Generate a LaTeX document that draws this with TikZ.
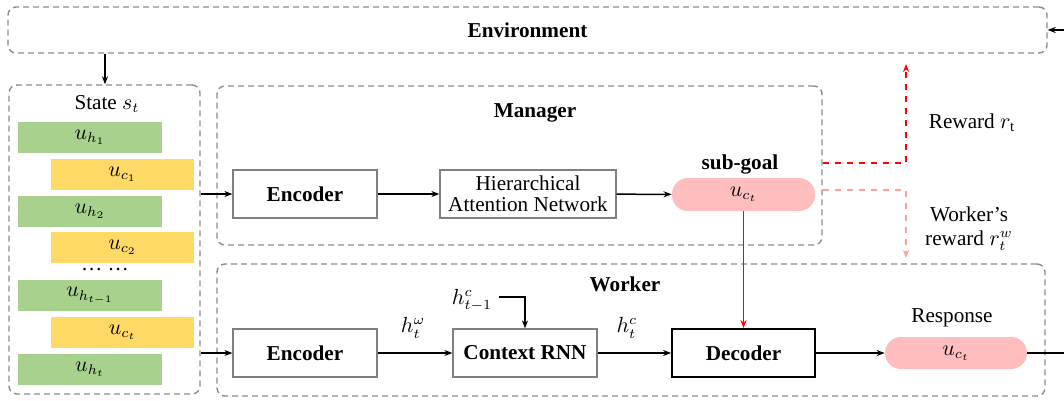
\documentclass[tikz,border=0pt]{standalone}
\usepackage{fontspec}
\setmainfont{Liberation Serif}
\usetikzlibrary{arrows.meta}

\definecolor{boxgreen}{HTML}{A9D18E}
\definecolor{boxyellow}{HTML}{FFD966}
\definecolor{boxpink}{HTML}{FFBDBD}
\definecolor{framegray}{HTML}{8C8C8C}
\definecolor{rewardpink}{HTML}{FFA0A0}

\tikzset{
  frame/.style={draw=framegray, line width=0.7pt, dash pattern=on 3pt off 2pt, rounded corners=4pt, inner sep=0pt},
  module/.style={draw=gray, line width=0.6pt, minimum width=72pt, minimum height=24pt, inner sep=1pt, align=center},
  hbar/.style={fill=boxgreen, minimum width=72pt, minimum height=15.5pt, inner sep=0pt},
  cbar/.style={fill=boxyellow, minimum width=71.5pt, minimum height=15.5pt, inner sep=0pt},
  pill/.style={fill=boxpink, minimum width=71.5pt, minimum height=16.5pt, rounded corners=8pt, inner sep=0pt},
  flow/.style={-{Stealth[length=4pt,width=3pt]}, line width=0.75pt},
}

\begin{document}
\begin{tikzpicture}[x=0.5pt, y=-0.5pt, font=\fontsize{10.6}{12.7}\selectfont]
    \useasboundingbox (0,0) rectangle (1064,401);

    % containers
    \node[frame, minimum width=519.5pt, minimum height=23pt] (env) at (527.5,30) {\textbf{Environment}};
    \node[frame, minimum width=95.5pt, minimum height=154.5pt] (state) at (104.5,239.5) {};
    \node[frame, minimum width=302.5pt, minimum height=79.5pt] (mgr) at (519.5,165.5) {};
    \node[frame, minimum width=414pt, minimum height=66pt] (wkr) at (631,330) {};

    \node (statelbl) at (107,104) {State $s_t$};
    \node (mgrlbl) at (535,113) {\textbf{Manager}};
    \node (wkrlbl) at (625,284) {\textbf{Worker}};

    % utterances in the state
    \node[hbar] (h1) at (90,137.5) {$u_{h_1}$};
    \node[cbar] (c1) at (122.5,174.5) {$u_{c_1}$};
    \node[hbar] (h2) at (90,211.5) {$u_{h_2}$};
    \node[cbar] (c2) at (122.5,247.5) {$u_{c_2}$};
    \node (dots) at (105,270) {\dots\ \dots};
    \node[hbar] (hprev) at (90,295.5) {$u_{h_{t-1}}$};
    \node[cbar] (ct) at (122.5,332.5) {$u_{c_t}$};
    \node[hbar] (ht) at (90,369.5) {$u_{h_t}$};

    % manager
    \node[module] (enc1) at (305,194) {\textbf{Encoder}};
    \node[module, minimum width=88pt, inner sep=0pt] (han) at (528,194) {Hierarchical\\[-2pt]Attention Network};
    \node[pill] (goal) at (743.5,194.5) {$u_{c_t}$};
    \node (goallbl) at (740,164) {\textbf{sub-goal}};

    % worker
    \node[module] (enc2) at (305,353) {\textbf{Encoder}};
    \node[module] (crnn) at (525,353) {\textbf{Context RNN}};
    \node[module, draw=black, line width=0.9pt, minimum width=71.5pt] (dec) at (743.5,353) {\textbf{Decoder}};
    \node[pill, minimum width=71pt, minimum height=16pt] (resp) at (956,353) {$u_{c_t}$};
    \node (resplbl) at (952,318) {Response};

    \node (hctx) at (472,300) {$h_{t-1}^{c}$};
    \node (hw) at (413,328) {$h_t^{\omega}$};
    \node (hc) at (627,328) {$h_t^{c}$};

    % rewards
    \node (rwlbl) at (972,123) {Reward $r_{\mathrm{t}}$};
    \node[align=center] (wrwlbl) at (969,229) {Worker’s\\[-1pt]reward $r_t^{w}$};

    \coordinate (rtop) at (906,64);
    \coordinate (rbot) at (906,258);
    \coordinate (envin) at (1064,30);
    \coordinate (respout) at (1064,353);

    % connectors
    \draw[flow] (env.south -| statelbl) ++(-2,0) coordinate (envdown) -- (envdown |- state.north);
    \draw[flow] (enc1.west -| state.east) -- (enc1.west);
    \draw[flow] (enc1) -- (han);
    \draw[flow] (han) -- (goal);
    \draw[flow] (enc2.west -| state.east) -- (enc2.west);
    \draw[flow] (enc2) -- (crnn);
    \draw[flow] (crnn) -- (dec);
    \draw[flow] (dec) -- (resp);
    \draw[line width=0.75pt] (resp) -- (respout);
    \draw[flow] (envin) -- (env.east |- envin);
    \draw[flow] (hctx.east |- 0,297) -- (crnn.north |- 0,297) -- (crnn.north);
    \draw[flow, red] (goal) -- (dec);
    \draw[flow, red, dashed, line width=0.85pt] (mgr.east |- 0,163) -| (rtop);
    \draw[flow, rewardpink, dashed, line width=0.85pt] (mgr.east |- 0,190) -| (rbot);
\end{tikzpicture}
\end{document}
